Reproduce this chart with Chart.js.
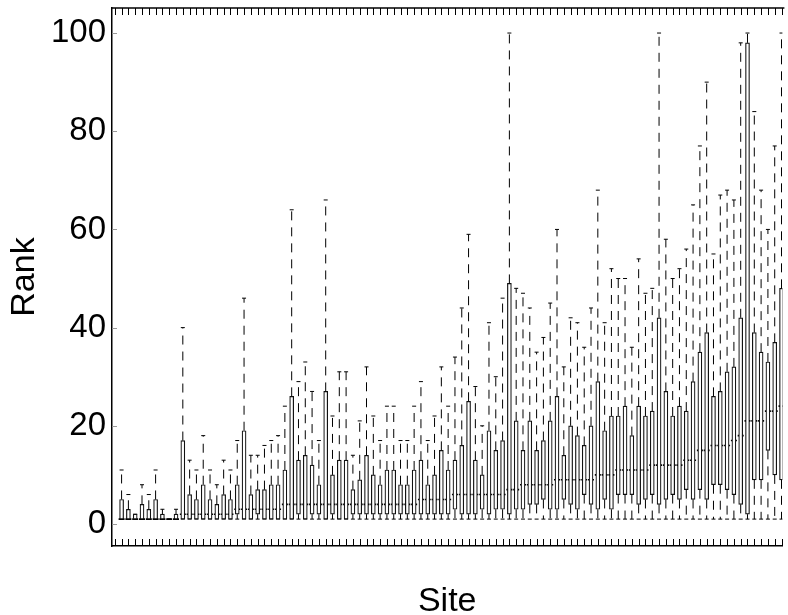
<!DOCTYPE html>
<html>
<head>
<meta charset="utf-8">
<script src="https://cdn.jsdelivr.net/npm/chart.js@4/dist/chart.umd.min.js"></script>
<style>
  html, body { margin: 0; padding: 0; background: #fff; overflow: hidden; }
  #wrap { width: 788px; height: 615px; }
</style>
</head>
<body>
<div id="wrap"><canvas id="rankChart"></canvas></div>
<script>
// rank distribution per site (one entry per site, left to right)
const q1 = [1,1,1,1,1,1,1,1,1,1, 1,1,1,1,1,1,1,2,1,1, 2,1,1,1,1,1,2,1,2,2,
            1,2,1,1,2,2,2,2,2,2, 2,2,2,2,2,2,2,2,2,3, 2,2,2,3,2,3,3,2,3,3,
            4,4,5,3,3,5,4,3,6,4, 3,5,3,6,6,6,4,5,6,4, 5,6,5,7,5,7,5,8,8,7,
            6,4,2,9,9,15,10,9];
const median = [1,1,1,1,1,1,1,1,1,2, 2,2,2,2,2,2,2,3,3,3, 3,3,3,3,4,4,4,4,4,4,
                4,4,4,4,4,4,4,4,4,4, 4,4,4,4,5,5,5,5,5,6, 6,6,6,6,6,6,6,7,7,8,
                8,8,8,8,9,9,9,9,9,9, 10,10,10,11,11,11,11,11,12,12, 12,12,12,13,13,15,15,16,16,16,
                17,18,21,21,21,23,23,24];
const q3 = [5,3,2,4,3,5,2,1,2,17, 6,5,8,5,4,6,5,8,19,6, 7,7,8,8,11,26,13,14,12,8,
            27,10,13,13,7,9,14,10,8,11, 11,8,8,11,13,8,10,15,11,13, 16,25,13,10,19,15,17,49,21,15,
            21,15,17,21,26,14,20,18,16,20, 29,19,22,22,24,18,24,22,23,42, 27,22,24,23,29,35,39,26,27,31,
            32,42,98,39,35,33,37,48];
const upper = [11,6,2,8,6,11,3,1,3,40, 13,11,18,11,8,13,11,17,46,14, 14,16,17,18,24,64,29,33,27,17,
               66,22,31,31,14,21,32,22,17,24, 24,17,17,24,29,17,22,32,24,34, 44,59,28,20,41,30,46,100,48,47,
               44,35,38,45,60,32,42,41,36,44, 68,41,52,50,50,36,54,47,48,100, 58,50,52,56,65,77,90,55,67,68,
               66,98,100,84,68,60,77,100];
const lower = q1.map(() => 1);
const sites = q3.map((v, i) => i + 1);
const yTicks = [0, 20, 40, 60, 80, 100];

const font = "'Liberation Sans', Arial, sans-serif";

const whisker = (from, to) => sites.flatMap((s, i) => [
  {x: i, y: from[i]}, {x: i, y: to[i]}, {x: i, y: null}
]);

const noPad = scale => {
  scale.paddingTop = 0;
  scale.paddingBottom = 0;
  scale.paddingLeft = 0;
  scale.paddingRight = 0;
};

const frame = {
  id: 'frame',
  afterDatasetsDraw(chart) {
    const {ctx, chartArea: a, scales: {x, y}} = chart;
    ctx.save();
    ctx.strokeStyle = '#000';
    ctx.lineWidth = 1.5;
    ctx.beginPath();
    ctx.moveTo(a.left, a.top);
    ctx.lineTo(a.right + 2, a.top);
    ctx.stroke();
    ctx.lineWidth = 1;
    ctx.beginPath();
    for (let i = Math.ceil(x.min); i <= x.max; i++) {
      const px = Math.round(x.getPixelForValue(i)) + 0.5;
      ctx.moveTo(px, a.top);
      ctx.lineTo(px, a.top + 7);
      ctx.moveTo(px, a.bottom);
      ctx.lineTo(px, a.bottom - 7);
    }
    ctx.stroke();
    ctx.strokeStyle = '#999';
    ctx.beginPath();
    yTicks.forEach(v => {
      const py = Math.round(y.getPixelForValue(v)) + 0.5;
      ctx.moveTo(a.left, py);
      ctx.lineTo(a.left + 5, py);
    });
    ctx.stroke();
    ctx.restore();
  }
};

new Chart(document.getElementById('rankChart'), {
  type: 'bar',
  data: {
    datasets: [
      {
        type: 'line',
        data: whisker(q3, upper),
        borderColor: '#000',
        borderWidth: 1,
        borderDash: [9, 7],
        pointRadius: 0,
        spanGaps: false
      },
      {
        type: 'line',
        data: whisker(q1, lower),
        borderColor: '#000',
        borderWidth: 1,
        borderDash: [9, 7],
        pointRadius: 0,
        spanGaps: false
      },
      {
        type: 'bar',
        data: sites.map((s, i) => ({x: i, y: [q1[i], q3[i]]})),
        backgroundColor: '#fff',
        borderColor: '#111',
        borderWidth: 1.2,
        borderSkipped: false,
        barThickness: 4
      },
      {
        type: 'scatter',
        data: sites.map((s, i) => ({x: i, y: median[i]})),
        pointStyle: 'line',
        pointRadius: 3,
        borderColor: '#000',
        borderWidth: 1.6
      },
      {
        type: 'scatter',
        data: sites.flatMap((s, i) => [{x: i, y: upper[i]}, {x: i, y: lower[i]}]),
        pointStyle: 'line',
        pointRadius: 2,
        borderColor: '#000',
        borderWidth: 1
      }
    ]
  },
  options: {
    responsive: true,
    maintainAspectRatio: false,
    animation: false,
    events: [],
    layout: { padding: { top: 8, right: 0, left: 0, bottom: 0 } },
    plugins: { legend: { display: false }, tooltip: { enabled: false } },
    scales: {
      x: {
        type: 'linear',
        offset: false,
        min: -1.41,
        max: 97.13,
        afterFit: scale => { scale.height = 69; noPad(scale) },
        grid: { drawOnChartArea: false, drawTicks: false, offset: false },
        border: { display: true, color: '#000', width: 1.5 },
        ticks: { display: false },
        title: {
          display: true,
          text: 'Site',
          color: '#000',
          font: { family: font, size: 34, lineHeight: 0.8 },
          padding: { top: 0, bottom: 0 }
        }
      },
      y: {
        min: -4.48,
        max: 105.1,
        afterFit: scale => { scale.width = 112; noPad(scale) },
        afterBuildTicks: scale => { scale.ticks = yTicks.map(v => ({value: v})) },
        grid: { drawOnChartArea: false, drawTicks: false },
        border: { display: true, color: '#000', width: 1.5, dash: [4, 2] },
        ticks: {
          color: '#000',
          padding: 6,
          font: { family: font, size: 33 }
        },
        title: {
          display: true,
          text: 'Rank',
          color: '#000',
          font: { family: font, size: 34, lineHeight: 1 },
          padding: { top: 8, bottom: 0 }
        }
      }
    }
  },
  plugins: [frame]
});
</script>
</body>
</html>
